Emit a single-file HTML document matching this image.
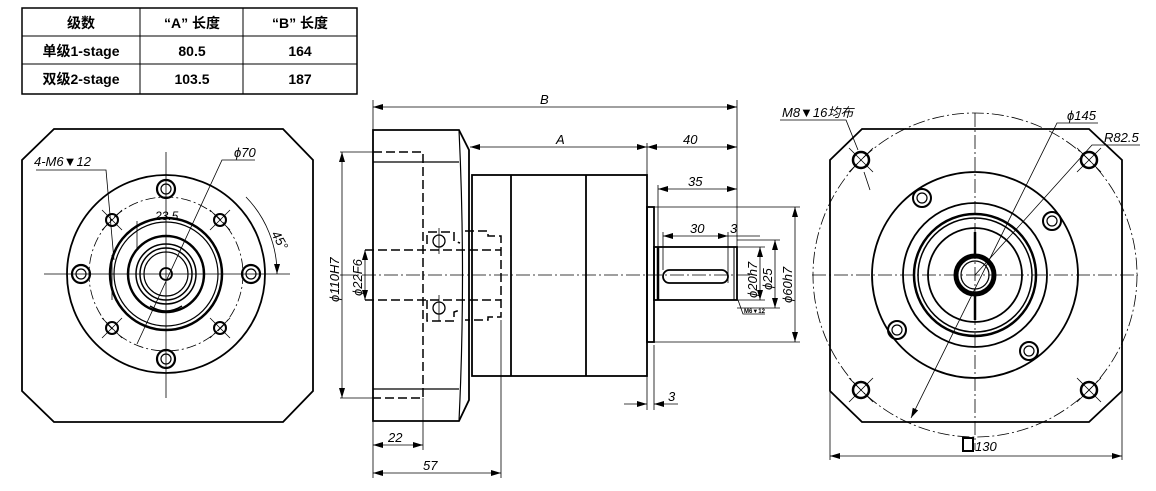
<!DOCTYPE html>
<html><head><meta charset="utf-8"><style>
html,body{margin:0;padding:0;background:#fff}
svg{display:block}
text{font-family:"Liberation Sans","Noto Sans CJK SC",sans-serif;fill:#000}
.i{font-style:italic;font-size:13px}
</style></head><body>
<svg width="1156" height="491" viewBox="0 0 1156 491" xmlns="http://www.w3.org/2000/svg">
<defs>
<marker id="a" viewBox="0 0 10 6" refX="10" refY="3" markerWidth="10" markerHeight="6" orient="auto-start-reverse" markerUnits="userSpaceOnUse"><path d="M0,0 L10,3 L0,6 z" fill="#000"/></marker>
</defs>
<g fill="none" stroke="#000">
<rect x="22" y="8" width="335" height="86" stroke-width="1.5"/>
<line x1="22" y1="36" x2="357" y2="36"/><line x1="22" y1="64" x2="357" y2="64"/>
<line x1="140" y1="8" x2="140" y2="94"/><line x1="243" y1="8" x2="243" y2="94"/>
</g>
<g font-weight="bold" font-size="14" text-anchor="middle">
<text x="81" y="28">级数</text><text x="192" y="28">“A” 长度</text><text x="300" y="28">“B” 长度</text>
<text x="81" y="56">单级1-stage</text><text x="192" y="56">80.5</text><text x="300" y="56">164</text>
<text x="81" y="84">双级2-stage</text><text x="192" y="84">103.5</text><text x="300" y="84">187</text>
</g>

<!-- LEFT VIEW -->
<g fill="none" stroke="#000" stroke-width="1.8">
<path d="M54,129 L283,129 L313,160 L313,391 L283,422 L54,422 L22,391 L22,160 Z"/>
<circle cx="166" cy="274" r="99"/>
<circle cx="166" cy="274" r="56" stroke-width="2.5"/>
<circle cx="166" cy="274" r="52" stroke-width="1.2"/>
<circle cx="166" cy="274" r="38" stroke-width="2.5"/>
<circle cx="166" cy="274" r="30" stroke-width="1.5"/>
<circle cx="166" cy="274" r="26" stroke-width="1.5"/>
<circle cx="166" cy="274" r="22" stroke-width="1.2"/>
<circle cx="166" cy="274" r="6"/>
<g stroke-width="2.2">
<circle cx="166" cy="189" r="9"/><circle cx="166" cy="359" r="9"/><circle cx="81" cy="274" r="9"/><circle cx="251" cy="274" r="9"/>
</g>
<g stroke-width="1.2">
<circle cx="166" cy="189" r="5"/><circle cx="166" cy="359" r="5"/><circle cx="81" cy="274" r="5"/><circle cx="251" cy="274" r="5"/>
</g>
<g stroke-width="2">
<circle cx="112" cy="220" r="6"/><circle cx="220" cy="220" r="6"/><circle cx="112" cy="328" r="6"/><circle cx="220" cy="328" r="6"/>
</g>
<path d="M150,306 Q166,316 182,306" stroke-width="1.5"/>
</g>
<g stroke="#000" stroke-width="0.8" fill="none">
<circle cx="166" cy="274" r="77" stroke-dasharray="10,3,2,3"/>
<line x1="44" y1="274" x2="290" y2="274"/>
<line x1="166" y1="152" x2="166" y2="398"/>
<line x1="102" y1="210" x2="122" y2="230"/><line x1="122" y1="210" x2="102" y2="230"/>
<line x1="210" y1="210" x2="230" y2="230"/><line x1="230" y1="210" x2="210" y2="230"/>
<line x1="102" y1="318" x2="122" y2="338"/><line x1="122" y1="318" x2="102" y2="338"/>
<line x1="210" y1="318" x2="230" y2="338"/><line x1="230" y1="318" x2="210" y2="338"/>
<polyline points="36,170 106,170 114,260"/>
<polyline points="255,160 222,160 137,344"/>
<path d="M246,197 A110,110 0 0 1 277,274" marker-end="url(#a)"/>
<line x1="137" y1="221" x2="137" y2="250"/>
<line x1="112" y1="255" x2="112" y2="300"/>
</g>
<text x="34" y="166" class="i">4-M6▼12</text>
<text x="234" y="157" class="i">ϕ70</text>
<text x="155" y="220" class="i" style="font-size:12px">23.5</text>
<text x="271" y="234" class="i" transform="rotate(60 271 234)">45°</text>

<!-- MIDDLE VIEW -->
<g fill="none" stroke="#000" stroke-width="1.8">
<path d="M373,130 L459,130 L469,150 L469,400 L459,421 L373,421 Z"/>
<line x1="373" y1="162" x2="459" y2="162" stroke-width="1.3"/>
<line x1="373" y1="389" x2="459" y2="389" stroke-width="1.3"/>
<path d="M459,130 Q466,275 459,421" stroke-width="1.2"/>
<rect x="472" y="175" width="175" height="201"/>
<line x1="511" y1="175" x2="511" y2="376"/><line x1="586" y1="175" x2="586" y2="376"/>
<rect x="647" y="207" width="7" height="135"/>
<rect x="654" y="247" width="83" height="53"/>
<line x1="658" y1="247" x2="658" y2="300" stroke-width="2.5"/>
<line x1="734" y1="247" x2="734" y2="300" stroke-width="1"/>
<rect x="663" y="270" width="65" height="13" rx="6.5"/>
</g>
<g fill="none" stroke="#000" stroke-width="1.5" stroke-dasharray="9,4">
<polyline points="373,152 423,152 423,398 373,398"/>
<polyline points="427,244 427,232 454,232 454,241 460,243"/>
<polyline points="427,300 427,321 454,321 454,312 460,310"/>
<polyline points="465,231 488,231 488,236 501,236 501,317 488,317 488,320 465,320"/>
<line x1="365" y1="250" x2="501" y2="250"/><line x1="365" y1="300" x2="501" y2="300"/>
</g>
<g fill="none" stroke="#000" stroke-width="1.3">
<circle cx="439" cy="241" r="6"/><circle cx="439" cy="308" r="6"/>
</g>
<g fill="none" stroke="#000" stroke-width="0.8">
<line x1="340" y1="275" x2="750" y2="275" stroke-dasharray="14,3,2,3"/>
<line x1="439" y1="228" x2="439" y2="254"/><line x1="439" y1="295" x2="439" y2="321"/>
<line x1="373" y1="100" x2="373" y2="478"/>
<line x1="737" y1="100" x2="737" y2="300"/>
<line x1="647" y1="143" x2="647" y2="410"/>
<line x1="654" y1="345" x2="654" y2="410"/>
<line x1="423" y1="398" x2="423" y2="450"/>
<line x1="501" y1="320" x2="501" y2="478"/>
<line x1="658" y1="185" x2="658" y2="247"/>
<line x1="663" y1="232" x2="663" y2="270"/>
<line x1="728" y1="232" x2="728" y2="283"/>
<line x1="373" y1="107" x2="737" y2="107" marker-start="url(#a)" marker-end="url(#a)"/>
<line x1="470" y1="147" x2="647" y2="147" marker-start="url(#a)" marker-end="url(#a)"/>
<line x1="647" y1="147" x2="737" y2="147" marker-start="url(#a)" marker-end="url(#a)"/>
<line x1="658" y1="189" x2="737" y2="189" marker-start="url(#a)" marker-end="url(#a)"/>
<line x1="663" y1="236" x2="728" y2="236" marker-start="url(#a)" marker-end="url(#a)"/>
<line x1="728" y1="236" x2="760" y2="236"/>
<line x1="373" y1="445" x2="423" y2="445" marker-start="url(#a)" marker-end="url(#a)"/>
<line x1="373" y1="473" x2="501" y2="473" marker-start="url(#a)" marker-end="url(#a)"/>
<line x1="624" y1="404" x2="647" y2="404" marker-end="url(#a)"/>
<line x1="654" y1="404" x2="678" y2="404" marker-start="url(#a)"/>
<line x1="340" y1="152" x2="373" y2="152"/><line x1="340" y1="398" x2="373" y2="398"/>
<line x1="342" y1="152" x2="342" y2="398" marker-start="url(#a)" marker-end="url(#a)"/>
<line x1="365" y1="250" x2="365" y2="300" marker-start="url(#a)" marker-end="url(#a)"/>
<line x1="737" y1="247" x2="765" y2="247"/><line x1="737" y1="300" x2="765" y2="300"/>
<line x1="760" y1="247" x2="760" y2="300" marker-start="url(#a)" marker-end="url(#a)"/>
<line x1="737" y1="240" x2="780" y2="240"/><line x1="737" y1="308" x2="780" y2="308"/>
<line x1="775" y1="240" x2="775" y2="308" marker-start="url(#a)" marker-end="url(#a)"/>
<line x1="654" y1="207" x2="800" y2="207"/><line x1="654" y1="342" x2="800" y2="342"/>
<line x1="795" y1="207" x2="795" y2="342" marker-start="url(#a)" marker-end="url(#a)"/>
<polyline points="738,300 743,314 765,314"/>
</g>
<text x="540" y="104" class="i">B</text>
<text x="556" y="144" class="i">A</text>
<text x="683" y="144" class="i">40</text>
<text x="688" y="186" class="i">35</text>
<text x="690" y="233" class="i">30</text>
<text x="730" y="233" class="i">3</text>
<text x="668" y="401" class="i">3</text>
<text x="388" y="442" class="i">22</text>
<text x="423" y="470" class="i">57</text>
<text x="744" y="313" style="font-size:6px;font-weight:bold">M6▼12</text>
<text class="i" transform="translate(339 302) rotate(-90)">ϕ110H7</text>
<text class="i" transform="translate(362 296) rotate(-90)">ϕ22F6</text>
<text class="i" transform="translate(757 298) rotate(-90)">ϕ20h7</text>
<text class="i" transform="translate(772 290) rotate(-90)">ϕ25</text>
<text class="i" transform="translate(792 303) rotate(-90)">ϕ60h7</text>

<!-- RIGHT VIEW -->
<g fill="none" stroke="#000" stroke-width="1.8">
<path d="M862,129 L1089,129 L1122,160 L1122,391 L1089,422 L862,422 L830,391 L830,160 Z"/>
<circle cx="975" cy="275" r="103"/>
<circle cx="975" cy="275" r="72"/>
<circle cx="975" cy="275" r="61" stroke-width="2.5"/>
<circle cx="975" cy="275" r="57" stroke-width="1.5"/>
<circle cx="975" cy="275" r="47"/>
<circle cx="975" cy="275" r="19" stroke-width="5"/>
<circle cx="975" cy="275" r="14" stroke-width="1.2"/>
<line x1="975" y1="232" x2="975" y2="256" stroke-width="2.5"/>
<line x1="975" y1="294" x2="975" y2="320" stroke-width="2.5"/>
<g stroke-width="2.5">
<circle cx="861" cy="160" r="8"/><circle cx="1089" cy="160" r="8"/><circle cx="861" cy="390" r="8"/><circle cx="1089" cy="390" r="8"/>
</g>
<g stroke-width="2">
<circle cx="922" cy="198" r="9"/><circle cx="1052" cy="221" r="9"/><circle cx="897" cy="330" r="9"/><circle cx="1029" cy="351" r="9"/>
</g>
<g stroke-width="1.2">
<circle cx="922" cy="198" r="5"/><circle cx="1052" cy="221" r="5"/><circle cx="897" cy="330" r="5"/><circle cx="1029" cy="351" r="5"/>
</g>
</g>
<g fill="none" stroke="#000" stroke-width="0.8">
<circle cx="975" cy="275" r="162" stroke-dasharray="12,3,2,3"/>
<line x1="812" y1="275" x2="1138" y2="275" stroke-dasharray="14,3,2,3"/>
<line x1="975" y1="113" x2="975" y2="450" stroke-dasharray="14,3,2,3"/>
<line x1="849" y1="148" x2="873" y2="172"/><line x1="873" y1="148" x2="849" y2="172"/>
<line x1="1077" y1="148" x2="1101" y2="172"/><line x1="1101" y1="148" x2="1077" y2="172"/>
<line x1="849" y1="378" x2="873" y2="402"/><line x1="873" y1="378" x2="849" y2="402"/>
<line x1="1077" y1="378" x2="1101" y2="402"/><line x1="1101" y1="378" x2="1077" y2="402"/>
<polyline points="780,120 846,120 858,150"/>
<line x1="864" y1="172" x2="870" y2="190"/>
<polyline points="1098,123 1057,123 911,418" marker-end="url(#a)"/>
<polyline points="1140,145 1092,145 975,275"/>
<line x1="830" y1="392" x2="830" y2="460"/><line x1="1122" y1="392" x2="1122" y2="460"/>
<line x1="830" y1="456" x2="1122" y2="456" marker-start="url(#a)" marker-end="url(#a)"/>
</g>
<rect x="963" y="438" width="10" height="13" fill="none" stroke="#000" stroke-width="2"/>
<text x="975" y="451" class="i">130</text>
<text x="782" y="117" class="i">M8▼16均布</text>
<text x="1067" y="120" class="i">ϕ145</text>
<text x="1104" y="142" class="i">R82.5</text>
</svg>
</body></html>
